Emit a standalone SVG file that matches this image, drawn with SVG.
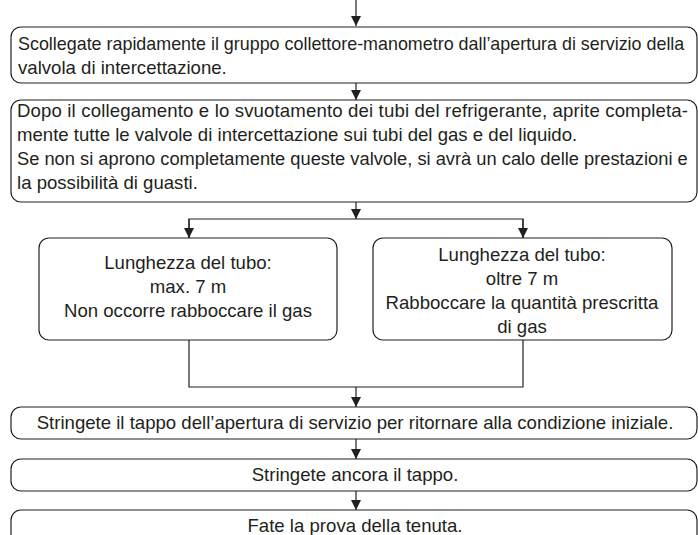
<svg xmlns="http://www.w3.org/2000/svg" width="698" height="535" viewBox="0 0 698 535">
<defs>
<style>
.box{fill:#fff;stroke:#231f20;stroke-width:1.2}
.ln{fill:none;stroke:#231f20;stroke-width:1.2}
.t{font-family:"Liberation Sans",Arial,sans-serif;font-size:18.6px;fill:#231f20}
.c{text-anchor:middle}
</style>
<marker id="ah" viewBox="0 0 10 10" refX="10" refY="5" markerWidth="10" markerHeight="10" markerUnits="userSpaceOnUse" orient="auto">
<path d="M0,0 L10,5 L0,10 Z" fill="#231f20"/>
</marker>
</defs>
<g id="connectors">
<line class="ln" x1="356" y1="0" x2="356" y2="26" marker-end="url(#ah)"/>
<line class="ln" x1="356" y1="83" x2="356" y2="100" marker-end="url(#ah)"/>
<line class="ln" x1="356" y1="202" x2="356" y2="219" marker-end="url(#ah)"/>
<polyline class="ln" points="189,238 189,219 523,219 523,238"/>
<line class="ln" x1="189" y1="219" x2="189" y2="238" marker-end="url(#ah)"/>
<line class="ln" x1="523" y1="219" x2="523" y2="238" marker-end="url(#ah)"/>
<polyline class="ln" points="189,340 189,387 523,387 523,340"/>
<line class="ln" x1="356" y1="387" x2="356" y2="407" marker-end="url(#ah)"/>
<line class="ln" x1="356" y1="439" x2="356" y2="459" marker-end="url(#ah)"/>
<line class="ln" x1="356" y1="491" x2="356" y2="510" marker-end="url(#ah)"/>
</g>
<g id="n1">
<rect class="box" x="11" y="27" width="686" height="56" rx="10"/>
<text class="t" x="18" y="50" style="font-size:17.9px">Scollegate rapidamente il gruppo collettore-manometro dall’apertura di servizio della</text>
<text class="t" x="18" y="74">valvola di intercettazione.</text>
</g>
<g id="n2">
<rect class="box" x="11" y="100" width="686" height="102" rx="10"/>
<text class="t" x="17" y="117" textLength="671" lengthAdjust="spacing">Dopo il collegamento e lo svuotamento dei tubi del refrigerante, aprite completa-</text>
<text class="t" x="17" y="141">mente tutte le valvole di intercettazione sui tubi del gas e del liquido.</text>
<text class="t" x="17" y="165" style="font-size:18.3px">Se non si aprono completamente queste valvole, si avrà un calo delle prestazioni e</text>
<text class="t" x="17" y="189">la possibilità di guasti.</text>
</g>
<g id="n3">
<rect class="box" x="39" y="238" width="298" height="102" rx="10"/>
<text class="t c" x="188" y="269">Lunghezza del tubo:</text>
<text class="t c" x="188" y="293">max. 7 m</text>
<text class="t c" x="188" y="317">Non occorre rabboccare il gas</text>
</g>
<g id="n4">
<rect class="box" x="373" y="238" width="299" height="102" rx="10"/>
<text class="t c" x="522" y="261">Lunghezza del tubo:</text>
<text class="t c" x="522" y="285">oltre 7 m</text>
<text class="t c" x="522" y="309">Rabboccare la quantità prescritta</text>
<text class="t c" x="522" y="333">di gas</text>
</g>
<g id="n5">
<rect class="box" x="11" y="407" width="686" height="32" rx="10"/>
<text class="t c" x="355" y="429">Stringete il tappo dell’apertura di servizio per ritornare alla condizione iniziale.</text>
</g>
<g id="n6">
<rect class="box" x="11" y="459" width="686" height="32" rx="10"/>
<text class="t c" x="355" y="481">Stringete ancora il tappo.</text>
</g>
<g id="n7">
<rect class="box" x="11" y="510" width="686" height="34" rx="10"/>
<text class="t c" x="355" y="532">Fate la prova della tenuta.</text>
</g>
</svg>
